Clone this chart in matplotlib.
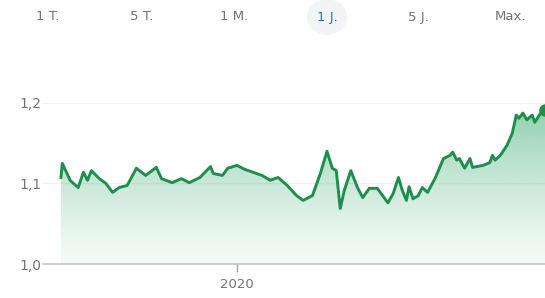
import matplotlib
matplotlib.use('Agg')
import matplotlib.pyplot as plt
import matplotlib.dates as mdates
import numpy as np
from datetime import datetime
from matplotlib.patches import Ellipse, PathPatch

# ---- data ----
dates = ["2019-08-21", "2019-08-22", "2019-08-28", "2019-09-03", "2019-09-07", "2019-09-10",
         "2019-09-13", "2019-09-19", "2019-09-24", "2019-09-29", "2019-10-04", "2019-10-10",
         "2019-10-17", "2019-10-24", "2019-11-01", "2019-11-05", "2019-11-13", "2019-11-20",
         "2019-11-26", "2019-12-04", "2019-12-12", "2019-12-14", "2019-12-21", "2019-12-25",
         "2020-01-01", "2020-01-07", "2020-01-13", "2020-01-20", "2020-01-26", "2020-02-01",
         "2020-02-08", "2020-02-15", "2020-02-20", "2020-02-27", "2020-03-04", "2020-03-09",
         "2020-03-13", "2020-03-16", "2020-03-19", "2020-03-22", "2020-03-27", "2020-04-01",
         "2020-04-05", "2020-04-10", "2020-04-16", "2020-04-20", "2020-04-24", "2020-04-28",
         "2020-05-02", "2020-05-05", "2020-05-08", "2020-05-10", "2020-05-13", "2020-05-17",
         "2020-05-20", "2020-05-24", "2020-05-30", "2020-06-05", "2020-06-10", "2020-06-12",
         "2020-06-15", "2020-06-17", "2020-06-21", "2020-06-25", "2020-06-27", "2020-07-05",
         "2020-07-10", "2020-07-12", "2020-07-14", "2020-07-18", "2020-07-23", "2020-07-27",
         "2020-07-30", "2020-08-01", "2020-08-04", "2020-08-07", "2020-08-11", "2020-08-13",
         "2020-08-18", "2020-08-21"]
values = [1.1075, 1.125, 1.1037, 1.095, 1.114, 1.104,
          1.116, 1.106, 1.100, 1.089, 1.095, 1.0975,
          1.119, 1.110, 1.120, 1.106, 1.101, 1.106,
          1.101, 1.1075, 1.121, 1.1125, 1.110, 1.119,
          1.1225, 1.1175, 1.114, 1.110, 1.104, 1.1075,
          1.0975, 1.085, 1.079, 1.085, 1.1125, 1.140,
          1.119, 1.116, 1.069, 1.091, 1.116, 1.095,
          1.0825, 1.094, 1.094, 1.085, 1.076, 1.0875,
          1.1075, 1.091, 1.079, 1.096, 1.081, 1.085,
          1.095, 1.089, 1.1075, 1.131, 1.135, 1.139,
          1.129, 1.131, 1.119, 1.131, 1.120, 1.1225,
          1.126, 1.135, 1.129, 1.135, 1.1475, 1.1625,
          1.185, 1.181, 1.1875, 1.179, 1.185, 1.176,
          1.189, 1.191]
range_buttons = ["1 T.", "5 T.", "1 M.", "1 J.", "5 J.", "Max."]
active_button = "1 J."
yticks = [1.0, 1.1, 1.2]
ytick_labels = ["1,0", "1,1", "1,2"]
xtick_date = "2020-01-01"
xtick_label = "2020"

# ---- style ----
W, H = 545, 298
line_color = "#1e8e4e"
label_color = "#70757a"

x = [datetime.strptime(d, "%Y-%m-%d") for d in dates]
xn = mdates.date2num(x)
y = np.array(values)

fig = plt.figure(figsize=(W / 100, H / 100), dpi=100)
ax = fig.add_axes([43 / W, 1 - 264 / H, (545 - 43) / W, (264 - 103) / H])

tick0 = mdates.date2num(datetime.strptime(xtick_date, "%Y-%m-%d"))
ppd = 1.3235  # pixels per day
x_left = tick0 - (237 - 43) / ppd
x_right = tick0 + (545 - 237) / ppd
ax.set_xlim(x_left, x_right)
ax.set_ylim(1.0, 1.2)

# grid lines
for yt in yticks[1:]:
    ax.axhline(yt, color="#f0f0f0", lw=1.0, zorder=0)

# gradient fill under line
poly = ax.fill_between(xn, y, 1.0, color="none", lw=0, zorder=1)
grad = np.linspace(0, 1, 256).reshape(-1, 1)
rgba = np.zeros((256, 1, 4))
base = np.array([0x34, 0xa8, 0x6a]) / 255.0
rgba[..., :3] = base
rgba[..., 3] = 0.06 + 0.50 * grad ** 1.3
img = ax.imshow(rgba, extent=[x_left, x_right, 1.0, 1.2], origin="lower",
                aspect="auto", zorder=1, interpolation="bilinear")
clip = PathPatch(poly.get_paths()[0], transform=ax.transData,
                 facecolor="none", edgecolor="none")
ax.add_patch(clip)
img.set_clip_path(clip)

ax.plot(xn, y, color=line_color, lw=2.1, solid_joinstyle="round", zorder=3)
ax.plot(xn[-1:], y[-1:], "o", color=line_color, ms=8, zorder=4, clip_on=True)

# axes styling
for s in ["top", "right", "left"]:
    ax.spines[s].set_visible(False)
ax.spines["bottom"].set_color("#c4c4c4")
ax.spines["bottom"].set_linewidth(1.2)
ax.set_yticks(yticks)
ax.set_yticklabels(ytick_labels)
ax.tick_params(axis="y", length=0, pad=1, labelsize=10, labelcolor=label_color)
ax.set_xticks([tick0])
ax.set_xticklabels([xtick_label])
ax.tick_params(axis="x", length=6, width=1, color="#a0a0a0", pad=4,
               labelsize=9.5, labelcolor=label_color)

# range buttons
btn_x = [48, 142, 234, 327, 418, 510]
for bx, lab in zip(btn_x, range_buttons):
    if lab == active_button:
        fig.patches.append(Ellipse((bx / W, 1 - 17 / H), 40 / W, 36 / H,
                                   transform=fig.transFigure, facecolor="#f3f4f5",
                                   edgecolor="none", zorder=0))
        fig.text(bx / W, 1 - 17 / H, lab, ha="center", va="center",
                 fontsize=9.5, color="#1a73e8", zorder=2)
    else:
        fig.text(bx / W, 1 - 17 / H, lab, ha="center", va="center",
                 fontsize=9.5, color=label_color, zorder=2)

fig.savefig("out.png", dpi=100)
